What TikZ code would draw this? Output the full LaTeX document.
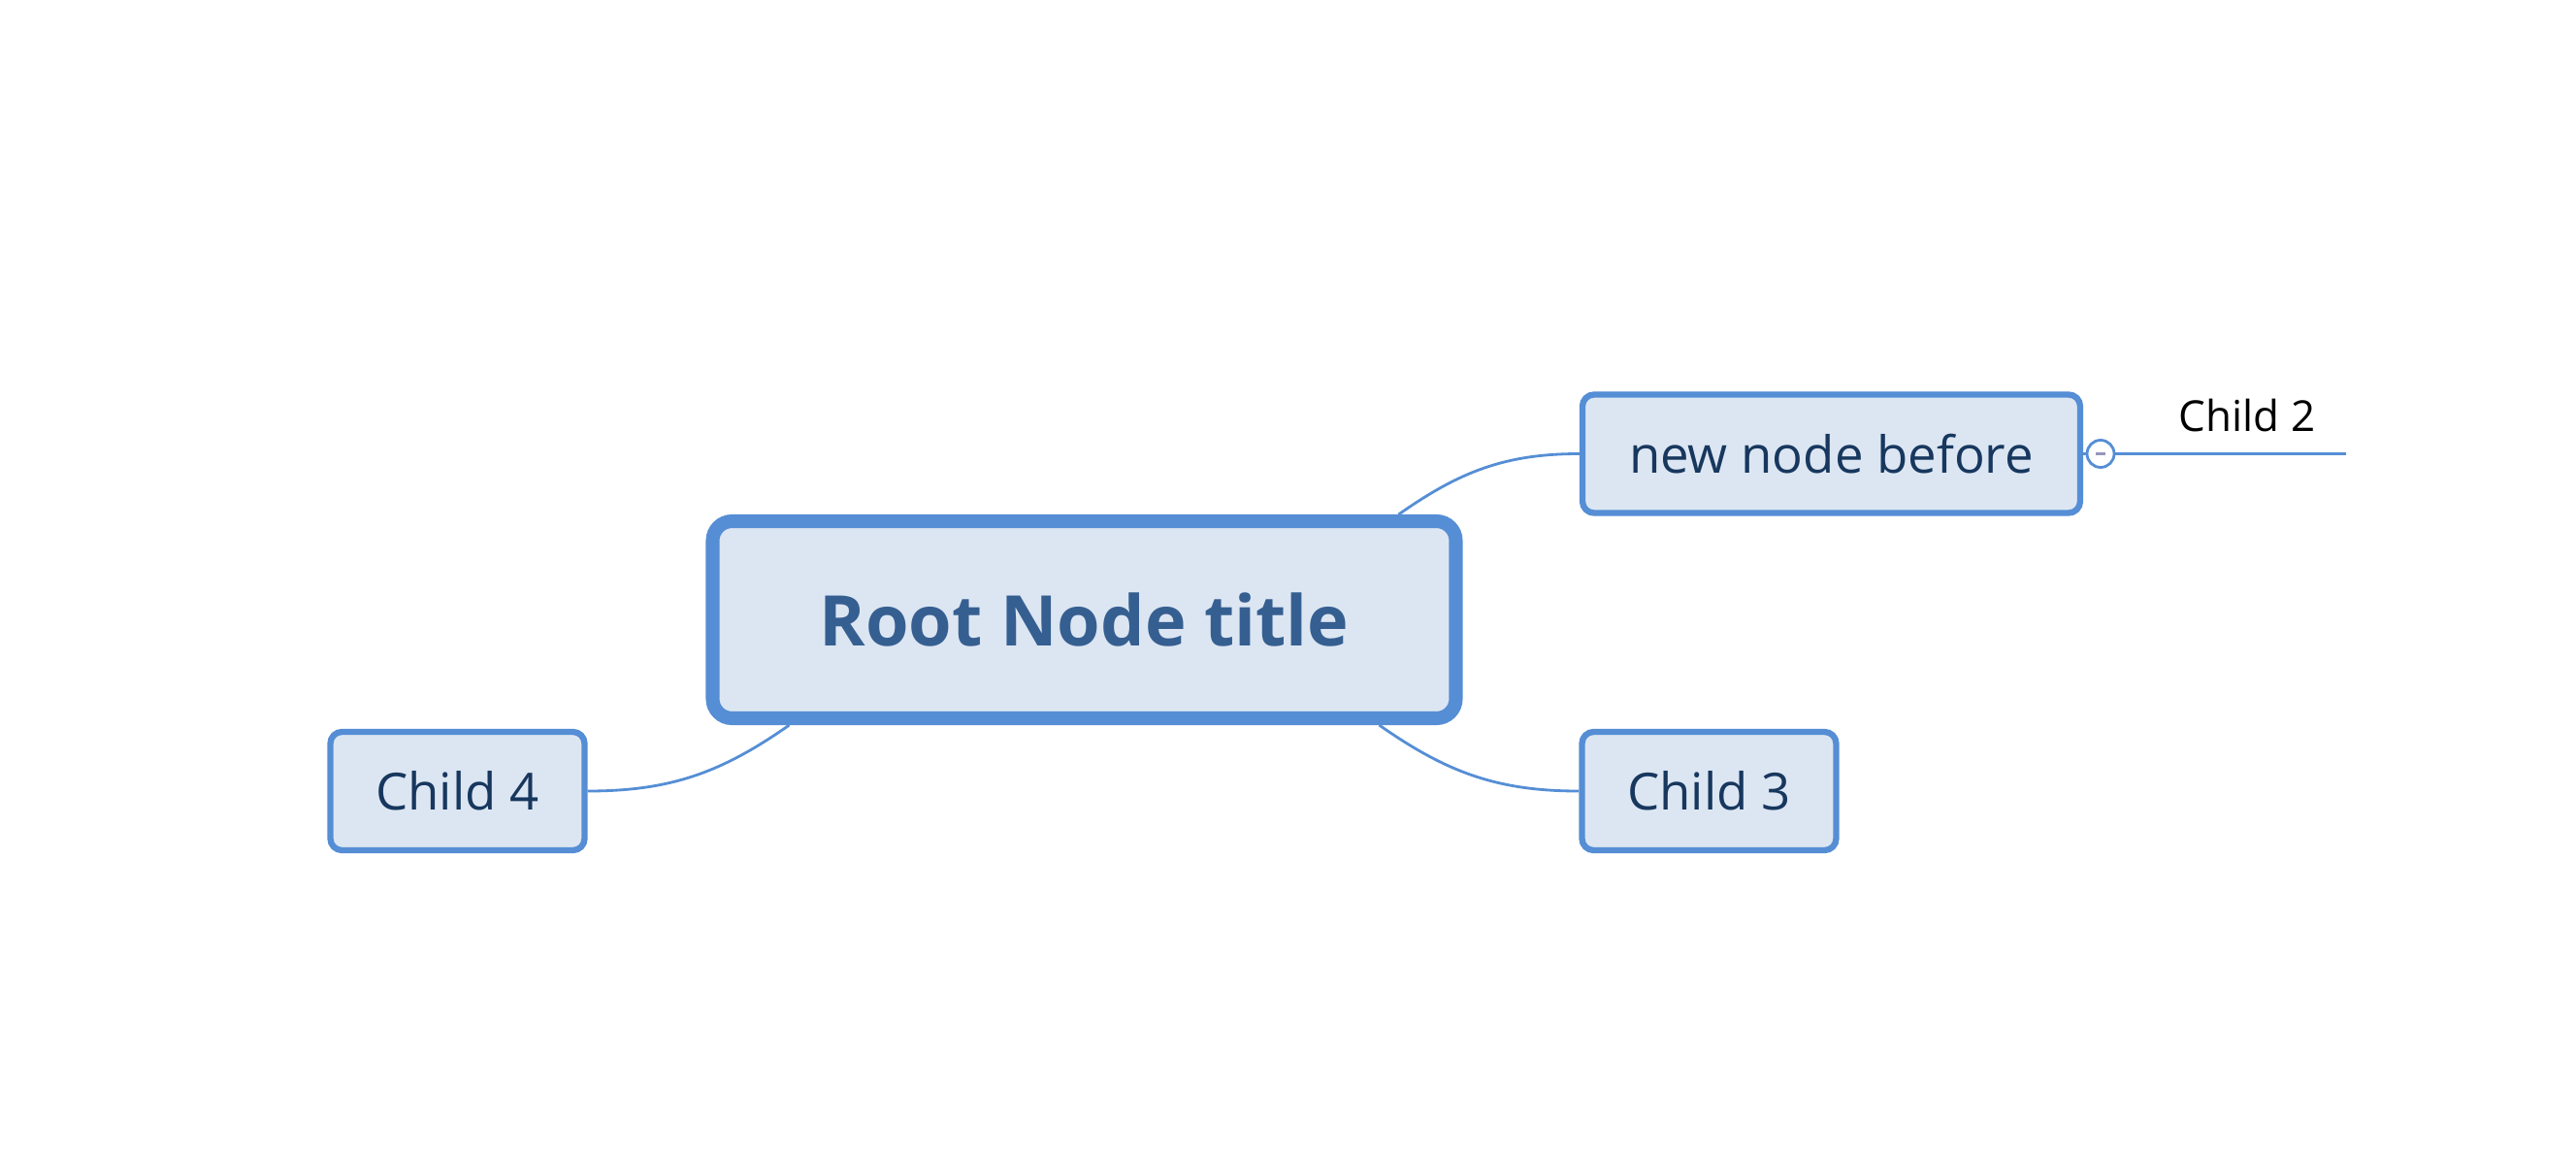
\documentclass[tikz,border=0pt]{standalone}
\usepackage{fontspec}
\setmainfont{Open Sans}
\usepackage{tikz}
\usetikzlibrary{arrows, positioning, shapes, calc}

\definecolor{mmborder}{RGB}{85,142,213}
\definecolor{mmfill}{RGB}{220,230,242}
\definecolor{mmroot}{RGB}{54,95,145}
\definecolor{mmtext}{RGB}{23,55,94}
\definecolor{mmminus}{RGB}{150,150,190}

\begin{document}
\begin{tikzpicture}[auto, font=\fontsize{15pt}{18pt}\selectfont,
rootnode/.style={rectangle, draw=mmborder, line width=4pt, rounded corners=0.2cm, fill=mmfill, text=mmroot, font=\fontsize{20.5pt}{24pt}\selectfont\bfseries, minimum width=7.66cm, minimum height=2.03cm},
topic/.style={rectangle, draw=mmborder, line width=1.8pt, rounded corners=0.12cm, fill=mmfill, text=mmtext, minimum height=1.22cm},
plain/.style={text=black, font=\fontsize{12.5pt}{15pt}\selectfont},
fold/.style={circle, draw=mmborder, line width=0.8pt, fill=white, minimum size=0.28cm, inner sep=0pt},
link/.style={draw=mmborder, line width=0.8pt}]

\useasboundingbox (0,0) rectangle (26.55,11.91);

% Nodes
\node[rootnode] (root) at (11.175,5.525) {Root Node title};
\node[topic, minimum width=5.13cm] (before) at (18.875,7.235) {new node before};
\node[topic, minimum width=2.62cm] (child3) at (17.615,3.76) {Child 3};
\node[topic, minimum width=2.62cm] (child4) at (4.715,3.76) {Child 4};

\node[fold] (fold) at (21.65,7.235) {};
\node[plain] (child2) at (23.16,7.63) {Child 2};
\coordinate (c2end) at (24.18,7.235);

% Start points on the root border
\coordinate (r1) at ([xshift=-0.66cm]root.north east);
\coordinate (r3) at ([xshift=-0.86cm]root.south east);
\coordinate (r4) at ([xshift=0.86cm]root.south west);

% Paths
\path[link] (r1) to[out=35, in=180] (before.west);
\path[link] (r3) to[out=-35, in=180] (child3.west);
\path[link] (r4) to[out=-145, in=0] (child4.east);
\path[link] (before.east) -- (fold.west);
\path[link] (fold.east) -- (c2end);

% Collapse mark
\draw[mmminus, line width=0.9pt] ([xshift=-0.05cm]fold.center) -- ([xshift=0.05cm]fold.center);
\end{tikzpicture}
\end{document}
